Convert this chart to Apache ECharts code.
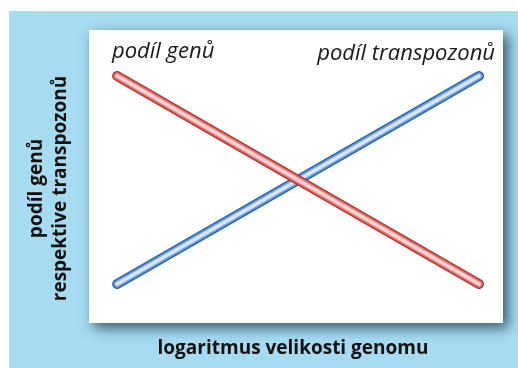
<!DOCTYPE html>
<html>
<head>
<meta charset="utf-8">
<script src="https://cdn.jsdelivr.net/npm/echarts@6/dist/echarts.min.js"></script>
<style>
  html, body { margin: 0; padding: 0; background: #fff; }
  #chart { position: absolute; left: 9px; top: 11px; width: 509px; height: 357px; }
</style>
</head>
<body>
<div id="chart"></div>
<script>
// schematic: share of genes vs. share of transposons along log genome size
const xEnds = [6.8, 94.2];
const genes = [84.3, 13.3];
const transposons = [13.3, 84.3];
const geneLabel = "podíl genů";
const transposonLabel = "podíl transpozonů";
const xTitle = "logaritmus velikosti genomu";
const yTitle = "podíl genů\nrespektive transpozonů";

const redLayers = [
  { width: 10, color: "#ae231c" },
  { width: 8.5, color: "#c9443e" },
  { width: 6.5, color: "#e08580" },
  { width: 3.5, color: "#f6d2d2" }
];
const blueLayers = [
  { width: 10, color: "#1a58a4" },
  { width: 8.5, color: "#3574c0" },
  { width: 6.5, color: "#80a8dc" },
  { width: 3.5, color: "#d8e6f7" }
];

function tube(values, layers) {
  const data = xEnds.map((x, i) => [x, values[i]]);
  return layers.map((layer) => ({
    type: "line",
    data: data,
    showSymbol: false,
    silent: true,
    animation: false,
    lineStyle: { width: layer.width, color: layer.color, cap: "round" }
  }));
}

const chart = echarts.init(document.getElementById("chart"));
chart.setOption({
  backgroundColor: "#a6dbf2",
  animation: false,
  grid: {
    show: true,
    left: 80,
    top: 19,
    right: 15,
    bottom: 45,
    borderWidth: 0,
    backgroundColor: "#ffffff",
    shadowColor: "rgba(20, 45, 65, 0.75)",
    shadowBlur: 12,
    shadowOffsetX: 5,
    shadowOffsetY: 5
  },
  xAxis: {
    type: "value",
    min: 0,
    max: 100,
    name: xTitle,
    nameLocation: "middle",
    nameGap: 16,
    nameTextStyle: { fontFamily: "Open Sans", fontWeight: "bold", fontSize: 19, color: "#111", padding: [0, 6, 0, 0] },
    axisLine: { show: false },
    axisTick: { show: false },
    axisLabel: { show: false },
    splitLine: { show: false }
  },
  yAxis: {
    type: "value",
    min: 0,
    max: 100,
    name: yTitle,
    nameLocation: "middle",
    nameRotate: 90,
    nameGap: 16,
    nameTextStyle: { fontFamily: "Open Sans", fontWeight: "bold", fontSize: 19, lineHeight: 24, color: "#111", align: "center", padding: [0, 24, 0, 0] },
    axisLine: { show: false },
    axisTick: { show: false },
    axisLabel: { show: false },
    splitLine: { show: false }
  },
  graphic: [
    {
      type: "text",
      x: 103,
      y: 41,
      style: { text: geneLabel, fontFamily: "Open Sans", fontStyle: "italic", fontSize: 22, fill: "#1a1a1a", align: "left", verticalAlign: "middle" }
    },
    {
      type: "text",
      x: 486,
      y: 43,
      style: { text: transposonLabel, fontFamily: "Open Sans", fontStyle: "italic", fontSize: 22, fill: "#1a1a1a", align: "right", verticalAlign: "middle" }
    }
  ],
  series: [...tube(transposons, blueLayers), ...tube(genes, redLayers)]
});
</script>
</body>
</html>
